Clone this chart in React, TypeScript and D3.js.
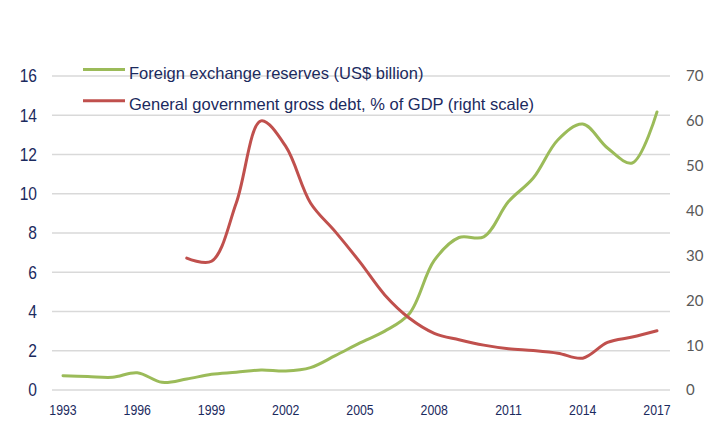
import React from "react";
import * as d3 from "d3";

const years: number[] = [1993,1994,1995,1996,1997,1998,1999,2000,2001,2002,2003,2004,2005,2006,2007,2008,2009,2010,2011,2012,2013,2014,2015,2016,2017];
const reserves: number[] = [0.73,0.69,0.65,0.88,0.39,0.56,0.8,0.9,1.02,0.97,1.14,1.75,2.4,3.0,3.9,6.6,7.77,7.8,9.6,10.8,12.75,13.55,12.33,11.57,14.17];
const debtYears: number[] = [1998,1999,2000,2001,2002,2003,2004,2005,2006,2007,2008,2009,2010,2011,2012,2013,2014,2015,2016,2017];
const debt: number[] = [29.4,28.7,41.7,60.0,54.3,41.7,35.3,28.5,21.2,16.0,12.65,11.2,10.0,9.2,8.8,8.2,7.1,10.6,11.8,13.2];
const leftTicks: number[] = [0,2,4,6,8,10,12,14,16];
const rightTicks: number[] = [0,10,20,30,40,50,60,70];
const xTicks: number[] = [1993,1996,1999,2002,2005,2008,2011,2014,2017];
const legendLabels: string[] = ["Foreign exchange reserves (US$ billion)", "General government gross debt, % of GDP (right scale)"];

const W = 714, H = 431;
const GREEN = "#9BBB59", RED = "#C0504D", NAVY = "#1B2A5E", GRID = "#D9D9D9";
const SANS = "Liberation Sans, Arial, sans-serif";

export default function App() {
  const x = d3.scaleLinear().domain([1993, 2017]).range([63, 657]);
  const yL = d3.scaleLinear().domain([0, 16]).range([390, 76]);
  const yR = d3.scaleLinear().domain([0, 70]).range([390, 76]);
  const lineL = d3.line<number>().x((_, i) => x(years[i])).y(d => yL(d)).curve(d3.curveCatmullRom.alpha(0.5));
  const lineR = d3.line<number>().x((_, i) => x(debtYears[i])).y(d => yR(d)).curve(d3.curveCatmullRom.alpha(0.5));
  return (
    <svg width={W} height={H} style={{ position: "absolute", left: 0, top: 0, background: "#fff" }}>
      {leftTicks.map(t => (
        <line key={"g" + t} x1={52} x2={670} y1={yL(t)} y2={yL(t)} stroke={GRID} strokeWidth={1.5} />
      ))}
      {leftTicks.map(t => (
        <text key={"l" + t} transform={`translate(37,${yL(t)}) scale(0.89,1)`} dy="0.36em" textAnchor="end" fontFamily={SANS} fontSize={17.5} fill={NAVY}>{t}</text>
      ))}
      {rightTicks.map(t => (
        <text key={"r" + t} x={686} y={yR(t)} dy="0.36em" textAnchor="start" fontFamily="Lato, sans-serif" fontSize={15} fill="#595959">{t}</text>
      ))}
      {xTicks.map(t => (
        <text key={"x" + t} transform={`translate(${x(t)},415) scale(0.88,1)`} textAnchor="middle" fontFamily={SANS} fontSize={14} fill={NAVY}>{t}</text>
      ))}
      <path d={lineL(reserves) || ""} fill="none" stroke={GREEN} strokeWidth={3} strokeLinecap="round" strokeLinejoin="round" />
      <path d={lineR(debt) || ""} fill="none" stroke={RED} strokeWidth={3} strokeLinecap="round" strokeLinejoin="round" />
      <g fontFamily={SANS} fontSize={16.5} fill={NAVY}>
        <line x1={83} x2={125} y1={69.5} y2={69.5} stroke={GREEN} strokeWidth={3} />
        <text x={129} y={78.5}>{legendLabels[0]}</text>
        <line x1={83} x2={125} y1={100.7} y2={100.7} stroke={RED} strokeWidth={3} />
        <text x={129} y={109.5}>{legendLabels[1]}</text>
      </g>
    </svg>
  );
}
